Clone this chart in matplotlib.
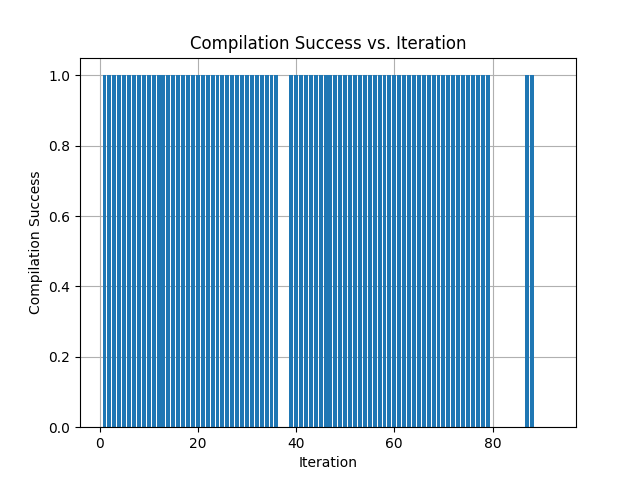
import numpy as np
from matplotlib import pyplot as plt

iterations = list(range(1, 93))
success = [1 if (1 <= i <= 36 or 39 <= i <= 79 or i in (87, 88)) else 0 for i in iterations]

plt.figure(figsize=(6.4, 4.8))
plt.bar(iterations, success, zorder=2)
plt.grid(zorder=0)
plt.xlabel('Iteration')
plt.ylabel('Compilation Success')
plt.title('Compilation Success vs. Iteration')
plt.savefig('out.png')
